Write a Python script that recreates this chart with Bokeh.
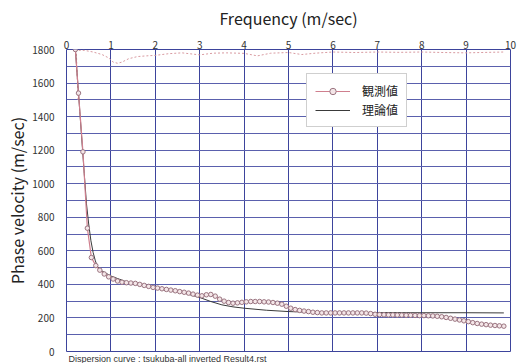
from bokeh.plotting import figure
from bokeh.models import FixedTicker, Legend, LegendItem, Title
from bokeh.embed import file_html
from bokeh.resources import INLINE

# ---- data ----
obs_freq = [0.20, 0.27, 0.37, 0.47, 0.56, 0.66, 0.75, 0.85, 0.95, 1.05, 1.15, 1.25, 1.35, 1.45,
            1.55, 1.65, 1.75, 1.85, 1.95, 2.05, 2.15, 2.25, 2.35, 2.45, 2.55, 2.65, 2.75, 2.85,
            2.95, 3.05, 3.15, 3.25, 3.35, 3.45, 3.55, 3.65, 3.75, 3.85, 3.95, 4.05, 4.15, 4.25,
            4.35, 4.45, 4.55, 4.65, 4.75, 4.85, 4.95, 5.05, 5.15, 5.25, 5.35, 5.45, 5.55, 5.65,
            5.75, 5.85, 5.95, 6.05, 6.15, 6.25, 6.35, 6.45, 6.55, 6.65, 6.75, 6.85, 6.95, 7.05,
            7.15, 7.25, 7.35, 7.45, 7.55, 7.65, 7.75, 7.85, 7.95, 8.05, 8.15, 8.25, 8.35, 8.45,
            8.55, 8.65, 8.75, 8.85, 8.95, 9.05, 9.15, 9.25, 9.35, 9.45, 9.55, 9.65, 9.75, 9.85]
obs_vel = [1800, 1540, 1190, 735, 560, 512, 485, 462, 445, 432, 420, 413, 410, 408,
           406, 400, 394, 388, 382, 378, 374, 370, 366, 362, 357, 353, 348, 342,
           336, 332, 338, 340, 330, 312, 300, 292, 288, 290, 293, 296, 298, 298,
           298, 296, 295, 292, 288, 282, 270, 258, 250, 245, 241, 238, 234, 232,
           230, 230, 230, 230, 230, 230, 230, 230, 230, 230, 229, 226, 222, 220,
           219, 218, 218, 217, 217, 216, 216, 215, 214, 214, 213, 212, 210, 207,
           203, 198, 193, 188, 183, 178, 172, 167, 163, 160, 157, 155, 153, 151]

th_freq = [0.20, 0.30, 0.40, 0.45, 0.50, 0.55, 0.60, 0.65, 0.70, 0.80, 0.90, 1.00, 1.20, 1.40,
           1.60, 1.80, 2.00, 2.50, 3.00, 3.25, 3.50, 3.75, 4.00, 4.50, 5.00, 5.50, 6.00, 7.00,
           8.00, 9.00, 9.85]
th_vel = [1800, 1430, 1060, 880, 760, 660, 590, 540, 505, 480, 465, 450, 430, 410,
          398, 390, 380, 360, 322, 298, 278, 266, 258, 246, 238, 234, 233, 232,
          231, 231, 230]

dot_freq = [0.26, 0.22, 0.40, 0.60, 0.80, 0.95, 1.05, 1.15, 1.25, 1.40, 1.60, 1.80, 2.00, 2.30,
            2.60, 3.00, 3.30, 3.60, 4.00, 4.30, 4.60, 5.00, 5.30, 5.60, 6.00, 6.50, 7.00, 7.50,
            8.00, 8.50, 9.00, 9.50, 9.85]
dot_vel = [1500, 1795, 1795, 1785, 1770, 1750, 1725, 1718, 1725, 1745, 1758, 1762, 1765, 1775,
           1780, 1768, 1778, 1780, 1777, 1762, 1778, 1782, 1770, 1778, 1785, 1782, 1785, 1783,
           1785, 1782, 1780, 1783, 1785]

x_ticks = [0, 1, 2, 3, 4, 5, 6, 7, 8, 9, 10]
y_ticks = [0, 200, 400, 600, 800, 1000, 1200, 1400, 1600, 1800]
y_minor = [100, 300, 500, 700, 900, 1100, 1300, 1500, 1700]

labels = ["観測値", "理論値"]
x_title = "Frequency (m/sec)"
y_title = "Phase velocity (m/sec)"
footer = "Dispersion curve : tsukuba-all inverted Result4.rst"

FONT = "Noto Sans CJK JP"
GRID_V = "#3d449c"
GRID_H = "#5a60ad"

p = figure(width=518, height=363, frame_width=444, frame_height=302,
           x_range=(0, 10), y_range=(0, 1800), x_axis_location="above",
           output_backend="svg", toolbar_location=None,
           min_border_left=66, min_border_right=8, min_border_top=49, min_border_bottom=12)
p.background_fill_color = "white"
p.border_fill_color = "white"
p.outline_line_color = GRID_V
p.outline_line_width = 1

p.xaxis.ticker = FixedTicker(ticks=x_ticks)
p.yaxis.ticker = FixedTicker(ticks=y_ticks, minor_ticks=y_minor)
for ax in (p.xaxis[0], p.yaxis[0]):
    ax.axis_line_color = None
    ax.major_tick_line_color = None
    ax.minor_tick_line_color = None
    ax.major_tick_out = 0
    ax.major_label_text_font = FONT
    ax.major_label_text_font_size = "10px"
    ax.major_label_text_color = "#333333"
    ax.axis_label_text_font = FONT
    ax.axis_label_text_font_style = "normal"
    ax.axis_label_text_font_size = "16px"
    ax.axis_label_text_color = "#222222"
p.xaxis.axis_label = x_title
p.yaxis.axis_label = y_title
p.xaxis.major_label_standoff = 1
p.xaxis.axis_label_standoff = 8
p.yaxis.major_label_standoff = 8
p.yaxis.axis_label_standoff = 0

p.xgrid.grid_line_color = GRID_V
p.xgrid.grid_line_width = 1
p.ygrid.grid_line_color = GRID_H
p.ygrid.minor_grid_line_color = GRID_H
p.ygrid.grid_line_width = 1

p.line(dot_freq, dot_vel, line_color="#d89aa0", line_dash="2 2", line_width=1)
r_th = p.line(th_freq, th_vel, line_color="#3a3a3a", line_width=1)
r_obs_l = p.line(obs_freq, obs_vel, line_color="#cf7f8e", line_width=1.2)
r_obs_m = p.scatter(obs_freq, obs_vel, marker="circle", size=4.5, line_color="#9a7480",
                    fill_color="#f4e6e8", line_width=1)

legend = Legend(items=[LegendItem(label=labels[0], renderers=[r_obs_l, r_obs_m]),
                       LegendItem(label=labels[1], renderers=[r_th])],
                location=(240, 224), glyph_width=35, glyph_height=16,
                label_text_font=FONT, label_text_font_size="12px",
                label_text_color="#222222", padding=8, spacing=2,
                label_standoff=12, border_line_color="#a0a0a0",
                background_fill_alpha=1.0, margin=0)
p.add_layout(legend, "center")

p.add_layout(Title(text=footer, align="left", text_font="Liberation Sans", text_font_size="9px",
                   text_font_style="normal", text_color="#333333", standoff=0, offset=2),
             "below")

open("out.html", "w").write(file_html(p, INLINE))
